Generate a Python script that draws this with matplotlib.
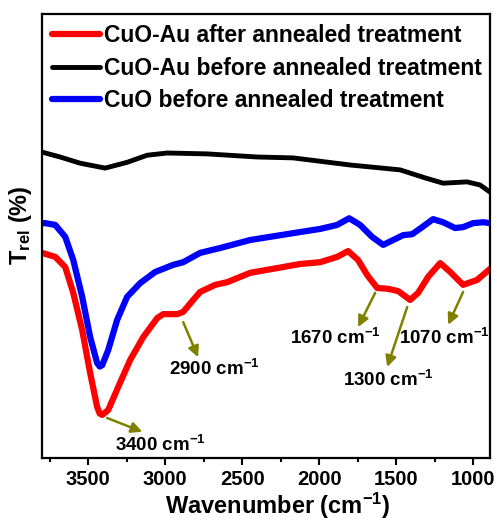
import matplotlib
matplotlib.use('Agg')
import matplotlib.pyplot as plt
from matplotlib.ticker import MultipleLocator

plt.rcParams['font.family'] = 'Liberation Sans'
plt.rcParams['font.weight'] = 'bold'
plt.rcParams['axes.labelweight'] = 'bold'
plt.rcParams['mathtext.fontset'] = 'custom'
plt.rcParams['mathtext.rm'] = 'Liberation Sans:bold'
plt.rcParams['mathtext.bf'] = 'Liberation Sans:bold'
plt.rcParams['mathtext.default'] = 'bf'

# FTIR spectra (wavenumber in cm-1, relative transmittance)
wn_black = [3800, 3682, 3552, 3390, 3247, 3117, 2987, 2727, 2403, 2169,
            1799, 1474, 1312, 1195, 1039, 955, 890]
t_black = [68.9, 67.8, 66.4, 65.3, 66.6, 68.2, 68.7, 68.5, 67.8, 67.6,
           66.0, 64.9, 63.1, 61.9, 62.2, 61.5, 59.9]

wn_blue = [3800, 3779, 3714, 3649, 3597, 3539, 3487, 3442, 3425, 3409, 3370, 3312,
           3247, 3162, 3065, 2948, 2883, 2773, 2643, 2448, 2123, 1993, 1883, 1805,
           1734, 1656, 1584, 1519, 1454, 1396, 1331, 1260, 1195, 1117, 1065,
           1000, 935, 890]
t_blue = [52.9, 52.9, 52.5, 49.8, 44.6, 36.3, 27.2, 21.4, 20.6, 20.9, 24.3, 31.1,
          36.3, 39.4, 41.9, 43.5, 44.1, 46.2, 47.3, 49.1, 50.9, 51.6, 52.5, 54.0,
          52.5, 49.8, 48.0, 49.1, 50.2, 50.4, 52.0, 53.8, 53.1, 51.8, 52.0,
          52.9, 53.1, 52.9]

wn_red = [3800, 3714, 3649, 3597, 3539, 3487, 3442, 3425, 3409, 3370, 3305, 3227,
          3143, 3052, 3013, 2922, 2883, 2818, 2773, 2675, 2597, 2448, 2123, 1993,
          1883, 1812, 1747, 1688, 1623, 1552, 1487, 1409, 1357, 1292, 1214,
          1149, 1065, 974, 890]
t_red = [46.2, 45.3, 43.0, 37.2, 28.8, 19.1, 11.5, 10.0, 9.7, 10.8, 16.0, 22.1,
         27.2, 31.5, 32.4, 32.4, 32.9, 35.6, 37.4, 39.0, 39.6, 41.7, 43.7, 44.1,
         45.3, 46.6, 44.6, 41.2, 38.3, 38.1, 37.6, 35.6, 37.2, 40.8, 43.9,
         41.9, 39.0, 40.1, 42.6]

labels = ['CuO-Au after annealed treatment',
          'CuO-Au before annealed treatment',
          'CuO before annealed treatment']

# peak labels: text, arrow start, arrow end, text position
peaks = ['3400', '2900', '1670', '1300', '1070']
arrow_from = [(3377, 9.0), (2883, 30.6), (1636, 37.2), (1428, 34.0), (1065, 37.4)]
arrow_to = [(3149, 5.9), (2786, 22.7), (1747, 29.5), (1558, 20.5), (1162, 30.0)]
text_pos = [(3032, 2.9), (2682, 20.0), (1896, 27.0), (1552, 17.6), (1188, 27.0)]

fig = plt.figure(figsize=(4.97, 5.21), dpi=100)
ax = fig.add_axes([0.0845, 0.121, 0.9015, 0.852])

line_kw = dict(solid_capstyle='round', solid_joinstyle='round')
ax.plot(wn_red, t_red, color='#ff0000', lw=4.5, label=labels[0], **line_kw)
ax.plot(wn_black, t_black, color='#000000', lw=3.5, label=labels[1], **line_kw)
ax.plot(wn_blue, t_blue, color='#0000ff', lw=4.5, label=labels[2], **line_kw)

for p, a, b, t in zip(peaks, arrow_from, arrow_to, text_pos):
    ax.annotate('', xy=b, xytext=a,
                arrowprops=dict(arrowstyle='-|>', color='#808000', lw=1.8, mutation_scale=16,
                                shrinkA=0, shrinkB=0))
    ax.text(t[0], t[1], p + r' cm$^{-1}$', fontsize=13.5, ha='center', va='center')

ax.set_xlim(3800, 890)
ax.set_ylim(0, 100)
ax.xaxis.set_major_locator(MultipleLocator(500))
ax.xaxis.set_minor_locator(MultipleLocator(250))
ax.tick_params(axis='x', which='major', direction='out', length=5, width=1.5,
               labelsize=14.5, pad=4, top=False)
ax.tick_params(axis='x', which='minor', direction='out', length=3, width=1.5, top=False)
ax.set_yticks([])
for s in ax.spines.values():
    s.set_linewidth(1.6)

ax.set_xlabel(r'Wavenumber (cm$^{-1}$)', fontsize=17, labelpad=1)
ax.xaxis.set_label_coords(0.527, -0.075)
ax.set_ylabel(r'T$_{rel}$ (%)', fontsize=17)
ax.yaxis.set_label_coords(-0.017, 0.525)

leg = ax.legend(loc='upper left', frameon=False, fontsize=16.5, handlelength=2.1,
                handletextpad=0.17, labelspacing=0.4, borderaxespad=0.25, borderpad=0.2)

fig.savefig('out.png', dpi=100)
